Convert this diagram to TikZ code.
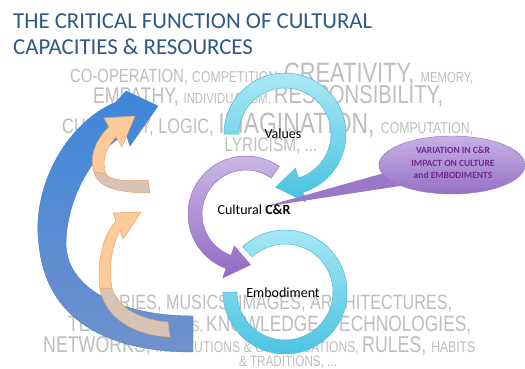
\documentclass[tikz,border=0pt]{standalone}
\usepackage{fontspec}
\setmainfont{Carlito}
\newfontfamily\narrowfont[FakeStretch=0.78]{Liberation Sans}
\usetikzlibrary{calc,shapes.geometric}
\definecolor{titleblue}{RGB}{46,88,135}
\definecolor{txtgrey}{RGB}{190,190,190}
\definecolor{cyantop}{RGB}{170,232,246}
\definecolor{cyanbot}{RGB}{70,195,225}
\definecolor{cyanedge}{RGB}{80,185,215}
\definecolor{purtop}{RGB}{208,188,232}
\definecolor{purbot}{RGB}{145,105,195}
\definecolor{puredge}{RGB}{150,115,195}
\definecolor{bubtop}{RGB}{200,178,228}
\definecolor{bubbot}{RGB}{150,112,198}
\definecolor{bubtext}{RGB}{112,40,140}
\definecolor{bluetop}{RGB}{62,135,218}
\definecolor{bluebot}{RGB}{112,145,205}
\definecolor{blueedge}{RGB}{70,125,200}
\definecolor{peach}{RGB}{252,202,155}
\definecolor{peachedge}{RGB}{232,165,105}
\definecolor{peachback}{RGB}{216,196,180}
\newcommand\gfs[1]{\fontsize{#1}{#1}\selectfont}
\begin{document}
\begin{tikzpicture}[x=1pt,y=-1pt,
  lbl/.style={font=\fontsize{14}{16}\selectfont, inner sep=0},
  greytxt/.style={text=txtgrey, inner sep=0, font=\narrowfont},
  titletxt/.style={text=titleblue, inner sep=0, font=\fontsize{22.8}{26}\selectfont, anchor=base west},
  cyanring/.style={top color=cyantop, bottom color=cyanbot, draw=cyanedge, line width=0.5pt},
  purplering/.style={top color=purtop, bottom color=purbot, draw=puredge, line width=0.5pt},
  bluearrow/.style={top color=bluetop, bottom color=bluebot, draw=blueedge, line width=0.4pt},
  orangefront/.style={fill=peach, draw=peachedge, line width=0.5pt},
  orangeback/.style={fill=peachback, draw=peachedge, line width=0.5pt},
  bubblefill/.style={top color=bubtop, bottom color=bubbot, draw=puredge, line width=0.4pt},
  bubbletxt/.style={text=bubtext, font=\bfseries\fontsize{9.5}{12.5}\selectfont, align=center, inner sep=0}
]
\useasboundingbox (0,0) rectangle (525,369);
\fill[white] (0,0) rectangle (525,369);

% title
\node[titletxt] (title1) at (13,29) {THE CRITICAL FUNCTION OF CULTURAL};
\node[titletxt] (title2) at (13,55) {CAPACITIES \& RESOURCES};

% grey word clouds
\node[greytxt, anchor=base west] (t1) at (70,82) {\resizebox{403pt}{!}{\gfs{17}CO-OPERATION, \gfs{14}COMPETITION, \gfs{25}CREATIVITY, \gfs{13}MEMORY,}};
\node[greytxt, anchor=base west] (t2) at (93,103) {\resizebox{350pt}{!}{\gfs{21}EMPATHY, \gfs{13.5}INDIVIDUALISM, \gfs{24}RESPONSIBILITY,}};
\node[greytxt, anchor=base west] (t3) at (62,133) {\resizebox{411pt}{!}{\gfs{20}CURIOSITY, LOGIC, \gfs{28}IMAGINATION, \gfs{15}COMPUTATION,}};
\node[greytxt, anchor=base] (t4) at (271,151) {\resizebox{93pt}{!}{\gfs{16}LYRICISM, ...}};
\node[greytxt, anchor=base west] (b1) at (86,309) {\resizebox{366pt}{!}{\gfs{20}STORIES, MUSICS, IMAGES, ARCHITECTURES,}};
\node[greytxt, anchor=base west] (b2) at (68,331) {\resizebox{403pt}{!}{\gfs{19}TEXTS, \gfs{13}CONCEPTS, \gfs{19}KNOWLEDGE, TECHNOLOGIES,}};
\node[greytxt, anchor=base west] (b3) at (43,352) {\resizebox{432pt}{!}{\gfs{19}NETWORKS, \gfs{13}INSTITUTIONS \& ORGANISATIONS, \gfs{19}RULES, \gfs{13}HABITS}};
\node[greytxt, anchor=base] (b4) at (288,366) {\resizebox{98pt}{!}{\gfs{13}\& TRADITIONS, ...}};

% big blue curved arrow
\path[bluearrow] (193,352) .. controls (105,352) and (46,318) .. (39,245)
  .. controls (31,190) and (64,124) .. (116,102) -- (126,91) -- (158,106) -- (130,146) -- (126,134)
  .. controls (92,152) and (66,200) .. (66,245)
  .. controls (68,290) and (122,316) .. (193,316) -- cycle;

% upper orange arrow
\path[orangeback] (94,172) .. controls (97,186) and (115,193) .. (150,193) -- (148,180)
  .. controls (125,181) and (110,181) .. (106,174) -- cycle;
\path[orangefront] (109,127) -- (104,118) -- (135,116) -- (122,147) -- (116,137)
  .. controls (104,150) and (102,162) .. (106,174) -- (94,172)
  .. controls (89,158) and (95,140) .. (109,127) -- cycle;

% lower orange arrow
\path[orangeback] (100,288) .. controls (104,315) and (130,335) .. (170,337) -- (168,322)
  .. controls (140,320) and (118,308) .. (112,288) -- cycle;
\path[orangefront] (116,221) -- (113,213) -- (141,212) -- (123,239) -- (120,230)
  .. controls (110,250) and (109,270) .. (112,288) -- (100,288)
  .. controls (97,265) and (101,238) .. (116,221) -- cycle;

% Values ring
\begin{scope}[shift={(285,134)}]
\path[cyanring] (180:61) arc[start angle=180, end angle=433, radius=61] -- (433:71) -- (100:54)
  -- (433:36) -- (433:46) arc[start angle=433, end angle=180, radius=46] -- cycle;
\end{scope}
% Cultural C&R ring
\begin{scope}[shift={(246,214)}]
\path[purplering] (305:58) arc[start angle=305, end angle=110, radius=58] -- (110:68) -- (85:51)
  -- (110:34) -- (110:44) arc[start angle=110, end angle=305, radius=44] -- cycle;
\end{scope}
% Embodiment ring
\begin{scope}[shift={(285,292)}]
\path[cyanring] (227:62) arc[start angle=227, end angle=540, radius=62] -- (540:48)
  arc[start angle=540, end angle=227, radius=48] -- cycle;
\end{scope}

% callout bubble
\coordinate (ptr) at (263,207);
\fill[bubbot!90!bubtop] (ptr) -- (388,172) -- (400,186) -- cycle;
\node[bubblefill, ellipse, minimum width=146pt, minimum height=58pt, inner sep=0] (bubble) at (452,165) {};
\node[bubbletxt] (bubtxt) at (453,163) {VARIATION IN C\&R\\IMPACT ON CULTURE\\and EMBODIMENTS};

% labels
\node[lbl] (values) at (283,134) {Values};
\node[lbl] (ccr) at (254,210) {Cultural \textbf{C\&R}};
\node[lbl] (emb) at (283,293) {Embodiment};
\end{tikzpicture}
\end{document}
